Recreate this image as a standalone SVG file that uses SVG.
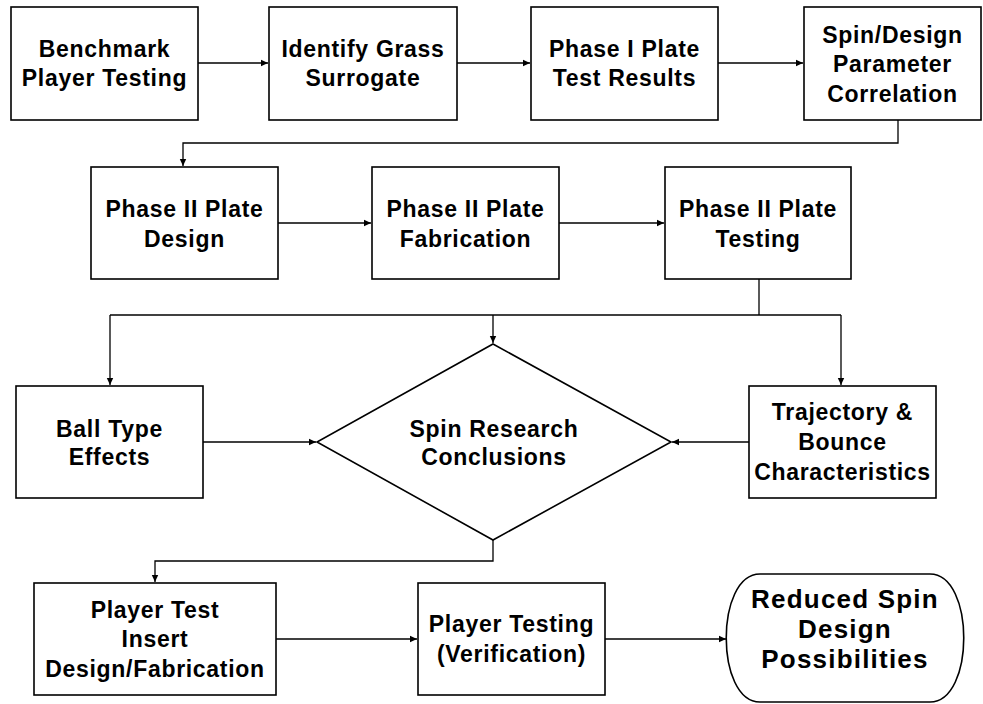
<svg xmlns="http://www.w3.org/2000/svg" width="983" height="704" viewBox="0 0 983 704">
<defs>
<style>
.box{fill:#fff;stroke:#000;stroke-width:1.6}
.t{font-family:"Liberation Sans",Arial,sans-serif;font-weight:bold;font-size:23px;letter-spacing:0.7px;text-anchor:middle;fill:#000}
.big{font-size:26px;letter-spacing:1.2px}
.c{fill:none;stroke:#000;stroke-width:1.3}
</style>
<marker id="ah" markerWidth="8" markerHeight="8" refX="7" refY="4" orient="auto" markerUnits="userSpaceOnUse">
<path d="M0,0.8 L7,4 L0,7.2 Z" fill="#000"/>
</marker>
</defs>
<rect width="983" height="704" fill="#fff"/>
<g id="connectors">
<path class="c" d="M198,63 H268" marker-end="url(#ah)"/>
<path class="c" d="M457,63 H530" marker-end="url(#ah)"/>
<path class="c" d="M718,63 H803" marker-end="url(#ah)"/>
<path class="c" d="M898,120 V143 H183 V166" marker-end="url(#ah)"/>
<path class="c" d="M278,223 H371" marker-end="url(#ah)"/>
<path class="c" d="M559,223 H664" marker-end="url(#ah)"/>
<path class="c" d="M759,279 V315"/>
<path class="c" d="M110,315 H841"/>
<path class="c" d="M110,315 V385" marker-end="url(#ah)"/>
<path class="c" d="M493,315 V343" marker-end="url(#ah)"/>
<path class="c" d="M841,315 V385" marker-end="url(#ah)"/>
<path class="c" d="M203,442 H316" marker-end="url(#ah)"/>
<path class="c" d="M749,442 H672" marker-end="url(#ah)"/>
<path class="c" d="M493,540 V561 H155 V582" marker-end="url(#ah)"/>
<path class="c" d="M276,639 H417" marker-end="url(#ah)"/>
<path class="c" d="M605,639 H726" marker-end="url(#ah)"/>
</g>
<g id="n1"><rect class="box" x="11" y="7" width="187" height="113"/>
<text class="t" x="104.5" y="57">Benchmark</text><text class="t" x="104.5" y="86">Player Testing</text></g>
<g id="n2"><rect class="box" x="269" y="7" width="188" height="113"/>
<text class="t" x="363" y="57">Identify Grass</text><text class="t" x="363" y="86">Surrogate</text></g>
<g id="n3"><rect class="box" x="531" y="7" width="187" height="113"/>
<text class="t" x="624.5" y="57">Phase I Plate</text><text class="t" x="624.5" y="86">Test Results</text></g>
<g id="n4"><rect class="box" x="804" y="7" width="177" height="113"/>
<text class="t" x="892.5" y="43">Spin/Design</text><text class="t" x="892.5" y="72">Parameter</text><text class="t" x="892.5" y="102">Correlation</text></g>
<g id="n5"><rect class="box" x="91" y="167" width="187" height="112"/>
<text class="t" x="184.5" y="217">Phase II Plate</text><text class="t" x="184.5" y="247">Design</text></g>
<g id="n6"><rect class="box" x="372" y="167" width="187" height="112"/>
<text class="t" x="465.5" y="217">Phase II Plate</text><text class="t" x="465.5" y="247">Fabrication</text></g>
<g id="n7"><rect class="box" x="665" y="167" width="186" height="112"/>
<text class="t" x="758" y="217">Phase II Plate</text><text class="t" x="758" y="247">Testing</text></g>
<g id="n8"><rect class="box" x="16" y="386" width="187" height="112"/>
<text class="t" x="109.5" y="437">Ball Type</text><text class="t" x="109.5" y="465">Effects</text></g>
<g id="n9"><polygon class="box" points="493,344 671,442 493,540 317,442"/>
<text class="t" x="494" y="437">Spin Research</text><text class="t" x="494" y="465">Conclusions</text></g>
<g id="n10"><rect class="box" x="749" y="386" width="187" height="112"/>
<text class="t" x="842.5" y="420">Trajectory &amp;</text><text class="t" x="842.5" y="450">Bounce</text><text class="t" x="842.5" y="480">Characteristics</text></g>
<g id="n11"><rect class="box" x="34" y="583" width="242" height="112"/>
<text class="t" x="155" y="618">Player Test</text><text class="t" x="155" y="647">Insert</text><text class="t" x="155" y="677">Design/Fabrication</text></g>
<g id="n12"><rect class="box" x="418" y="583" width="187" height="112"/>
<text class="t" x="511.5" y="632">Player Testing</text><text class="t" x="511.5" y="662">(Verification)</text></g>
<g id="n13"><path class="box" d="M760,574 L930,574 C975,574 975,702 930,702 L760,702 C715,702 715,574 760,574 Z"/>
<text class="t big" x="845" y="608">Reduced Spin</text><text class="t big" x="845" y="638">Design</text><text class="t big" x="845" y="668">Possibilities</text></g>
</svg>
